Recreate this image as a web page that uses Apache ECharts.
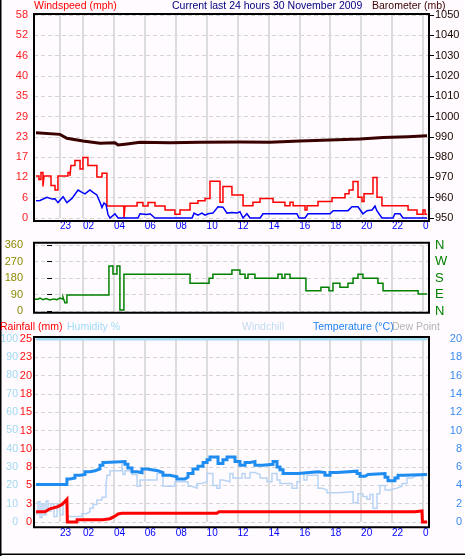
<!DOCTYPE html>
<html>
<head>
<meta charset="utf-8">
<title>Current last 24 hours 30 November 2009</title>
<script src="https://cdn.jsdelivr.net/npm/echarts@6.0.0/dist/echarts.min.js"></script>
<style>
  html, body { margin: 0; padding: 0; background: #fffbff; }
  #chart { width: 465px; height: 556px; }
</style>
</head>
<body>
<div id="chart"></div>
<script>
// hours on the time axis, 02 = 2.0 ... the last "0" = midnight (24)
var hourTicks = [0.51, 2, 4, 6, 8, 10, 12, 14, 16, 18, 20, 22, 24];
var hourLabels = ['23', '02', '04', '06', '08', '10', '12', '14', '16', '18', '20', '22', '0'];
var tMin = -1.17;
var tMax = 24.46;

var windLabels = ['0', '6', '12', '17', '23', '29', '35', '40', '46', '52', '58'];
var rainLabels = ['0', '3', '5', '8', '10', '13', '15', '18', '20', '23', '25'];
var compassLabels = ['N', 'E', 'S', 'W', 'N'];

var gustTime = [-1.04, -0.85, -0.72, -0.59, -0.52, -0.07, 0.19, 0.38, 1.03, 1.16, 1.22, 1.48, 1.81, 2.0, 2.32, 2.9, 3.23, 3.55, 4.65, 4.72,
  5.5, 5.88, 6.21, 6.66, 7.31, 7.95, 8.28, 8.93, 9.44, 9.9, 10.22, 10.87, 11.06, 11.64, 12.36, 13.0, 13.46, 14.3, 15.07, 15.4,
  15.6, 16.37, 16.5, 17.21, 18.12, 18.96, 19.22, 19.48, 19.8, 20.06, 20.19, 20.77, 21.03, 21.35, 23.04, 23.62, 24.01, 24.14, 24.27];
var gustMph = [12, 11, 13, 9, 12, 9.3, 8, 12, 13, 12, 15, 16.4, 14, 17.3, 15, 11.7, 12.8, 3.4, 0, 3.4,
  4.4, 3.4, 4.4, 3.4, 2.3, 1.1, 2.3, 4.2, 4.9, 5.6, 10.5, 4.5, 9, 6.6, 3.5, 4.5, 5.6, 4.5, 3.5, 4.5,
  3.5, 2.3, 3.5, 4.7, 5.8, 6.9, 8, 10.4, 5.9, 4.7, 6.9, 11.6, 5.9, 3.5, 2.3, 1.1, 2.3, 1.1, 1.1];

var windTime = [-1.04, -0.78, -0.33, 0, 0.19, 0.38, 0.71, 0.96, 1.29, 1.68, 1.94, 2.13, 2.45, 2.65, 2.9, 3.1, 3.23, 3.36, 3.49, 3.62,
  3.75, 4.07, 4.27, 5.56, 5.69, 6.14, 6.34, 6.66, 9.06, 9.19, 9.44, 9.7, 9.9, 10.09, 10.41, 10.74, 11.06, 11.32, 11.64, 11.97,
  12.16, 12.36, 12.61, 12.81, 13.46, 13.65, 15.85, 15.98, 16.37, 16.56, 17.99, 18.19, 19.15, 19.41, 19.8, 20.12, 20.38, 20.71, 20.9, 21.03,
  21.35, 22.06, 22.19, 22.52, 22.71, 24.27];
var windMph = [4.9, 5, 5.9, 5.4, 5.5, 4.4, 6.1, 4.4, 5.6, 8, 7.3, 6.9, 8, 7.3, 6.6, 4.5, 3, 4.3, 3.8, 1,
  0, 1.2, 0, 0, 1.2, 1, 1.2, 0, 0, 1.4, 0.8, 1.4, 0.8, 1.2, 1.4, 3.2, 3.1, 1.4, 1.6, 1.4,
  1.8, 0, 1.2, 0, 0, 1.2, 1.2, 0, 0, 1.2, 1.2, 2.1, 2.1, 3.2, 3.2, 1.2, 2.1, 2.3, 3.4, 2,
  0, 0, 1.2, 1.2, 0, 0];

var baroTime = [-1.04, 0.51, 0.96, 2.0, 3.1, 4.07, 4.27, 4.85, 5.69, 7.63, 9.57, 12.16, 14.1, 16.04, 17.99, 19.93, 21.42, 23.04, 24.27];
var baroMb = [992, 991.2, 989.3, 987.9, 986.8, 987.1, 986, 986.5, 987.3, 987.1, 987.3, 987.4, 987.3, 987.9, 988.4, 988.9, 989.6, 990, 990.5];

var dirTime = [-1.11, -0.91, -0.78, -0.59, -0.39, -0.14, 0.12, 0.32, 0.51, 0.71, 0.83, 0.96, 3.68, 3.94, 4.2, 4.39, 4.65, 8.93, 10.16, 10.41,
  11.64, 12.16, 12.49, 12.68, 13.13, 14.62, 14.88, 15.07, 15.4, 16.43, 17.4, 17.92, 18.18, 18.63, 19.15, 19.48, 19.8, 20.12, 21.09, 21.42,
  23.69, 24.27];
var dirDeg = [64, 70, 62, 68, 60, 66, 62, 70, 64, 75, 45, 87, 245, 202, 245, 5, 200, 151, 178, 200,
  224, 200, 178, 200, 178, 200, 178, 200, 178, 111, 129, 111, 151, 129, 151, 178, 200, 178, 151, 111,
  93, 93];

var humTime = [-1.04, 24.27];
var humPct = [100, 100];

var chillTime = [-1.04, -0.91, -0.78, -0.65, -0.52, -0.39, -0.26, -0.07, 0.12, 0.32, 0.51, 0.71, 0.96, 1.94, 2.19, 2.45, 2.65, 2.9, 3.23, 3.49,
  3.55, 3.75, 4.52, 4.59, 4.72, 5.17, 5.5, 5.69, 6.79, 7.18, 7.95, 8.8, 9.06, 9.38, 9.7, 10.03, 10.41, 10.67, 10.87, 11.06,
  11.51, 11.71, 12.3, 12.49, 12.81, 13.13, 13.46, 13.91, 14.23, 14.56, 14.75, 15.53, 15.85, 16.04, 16.3, 16.5, 17.21, 17.47, 17.79, 18.5,
  19.48, 19.8, 20.12, 20.38, 20.58, 20.77, 21.03, 21.22, 21.55, 21.87, 22.32, 22.65, 22.97, 23.3, 23.49, 23.94, 24.01, 24.27];
var chillC = [0.9, 2.2, 0.5, 2.0, 0.8, 2.3, 1.2, 2.0, 0.6, 1.9, 0.8, 2.0, 0.6, 0.9, 1.1, 1.5, 1.9, 2.4, 2.7, 4.0,
  5.1, 5.6, 6.4, 5.2, 5.6, 5.2, 3.9, 4.6, 5.3, 3.9, 4.4, 3.9, 3.7, 4.2, 4.4, 5.3, 4.0, 3.7, 4.6, 4.4,
  5.3, 4.8, 5.3, 4.8, 5.4, 5.2, 4.8, 4.4, 5.3, 4.6, 4.2, 3.7, 4.4, 5.3, 4.6, 5.1, 3.7, 3.5, 3.2, 3.3,
  2.1, 3.1, 2.8, 2.5, 3.0, 1.5, 3.1, 4.0, 3.5, 3.7, 3.9, 4.2, 4.8, 5.0, 5.1, 4.6, 5.2, 5.2];

var tempTime = [-1.04, 0.96, 1.16, 1.48, 1.81, 2.13, 2.45, 2.78, 3.1, 3.29, 3.42, 4.72, 4.91, 5.17, 5.5, 5.82, 6.14, 6.85, 7.18, 7.63,
  8.08, 8.6, 8.8, 9.12, 9.44, 9.77, 10.03, 10.22, 10.74, 11.06, 11.32, 11.84, 12.16, 12.49, 12.81, 13.13, 13.65, 14.3, 14.56, 14.75,
  14.95, 15.92, 17.21, 17.66, 17.99, 18.44, 19.74, 19.93, 20.25, 20.45, 21.55, 21.74, 22.19, 22.39, 22.71, 24.27];
var tempC = [4.1, 4.7, 4.8, 5.1, 5.2, 5.5, 5.6, 5.8, 6.2, 6.5, 6.6, 6.3, 5.9, 5.5, 5.4, 5.8, 5.6, 5.4, 5.1, 4.95,
  4.7, 4.9, 5.3, 5.8, 6.1, 6.5, 6.8, 7.1, 6.4, 6.8, 7.1, 6.6, 6.2, 6.5, 6.6, 6.2, 6.3, 6.6, 6.0, 5.7,
  5.3, 5.5, 5.4, 5.1, 5.4, 5.55, 5.3, 5.0, 5.2, 5.3, 4.9, 4.5, 4.8, 5.1, 5.2, 5.2];

var rainTime = [-1.04, -0.46, -0.14, 0.38, 0.64, 0.83, 0.96, 0.99, 1.6, 1.62, 3.29, 3.75, 4.07, 4.27, 4.52, 10.67, 10.8, 23.49, 23.94, 23.97, 24.27];
var rainMm = [1.4, 1.4, 1.8, 2.1, 2.4, 2.8, 3.1, 0, 0, 0.3, 0.3, 0.45, 0.8, 1.1, 1.2, 1.2, 1.4, 1.4, 1.5, 0, 0];

var FONT = '"Liberation Sans", Arial, sans-serif';

var chart = echarts.init(document.getElementById('chart'), null, { renderer: 'canvas' });

function zip (times, values) {
  var out = [];
  for (var i = 0; i < times.length; i++) {
    out.push([times[i], values[i]]);
  }
  return out;
}

function lineSeries (name, gridIdx, yIdx, data, color, width, step, z) {
  return {
    name: name,
    type: 'line',
    xAxisIndex: gridIdx,
    yAxisIndex: yIdx,
    data: data,
    step: step || false,
    showSymbol: false,
    symbol: 'none',
    clip: false,
    silent: true,
    z: z || 2,
    lineStyle: { color: color, width: width, join: 'miter' }
  };
}

function timeAxis (gridIdx, showLabels, margin) {
  return {
    type: 'value',
    gridIndex: gridIdx,
    min: tMin,
    max: tMax,
    axisLine: { show: false },
    axisTick: { show: false, customValues: hourTicks },
    splitLine: { show: true, lineStyle: { color: '#dcdcdc', width: 2, type: 'solid' } },
    axisLabel: {
      show: showLabels,
      customValues: hourTicks,
      align: 'left',
      margin: margin,
      color: '#0000ff',
      fontFamily: FONT,
      fontSize: 10,
      formatter: function (v) {
        var i = hourTicks.indexOf(v);
        return i >= 0 ? hourLabels[i] : '';
      }
    }
  };
}

var dashed = { show: true, lineStyle: { color: '#d4d4d4', width: 1, type: [4, 3] } };

function frame (y, h) {
  return {
    type: 'rect',
    z: 100,
    silent: true,
    shape: { x: 34, y: y, width: 395, height: h },
    style: { fill: null, stroke: '#000', lineWidth: 2 }
  };
}

function label (x, y, text, color) {
  return {
    type: 'text',
    z: 100,
    silent: true,
    style: { x: x, y: y, text: text, fill: color, font: '10.5px ' + FONT, verticalAlign: 'middle' }
  };
}

function plain (v) {
  return String(v);
}

var option = {
  animation: false,
  backgroundColor: '#fffbff',
  grid: [
    { left: 34, width: 396, top: 15, height: 203, outerBoundsMode: 'none' },
    { left: 34, width: 396, top: 245, height: 66, outerBoundsMode: 'none' },
    { left: 34, width: 396, top: 339, height: 183, outerBoundsMode: 'none' }
  ],
  xAxis: [timeAxis(0, true, 3), timeAxis(1, false, 3), timeAxis(2, true, 6)],
  yAxis: [{
    gridIndex: 0, type: 'value', position: 'left', min: 0, max: 58, interval: 5.8,
    axisLine: { show: false }, axisTick: { show: false },
    splitLine: dashed,
    axisLabel: { color: '#ff2020', fontFamily: FONT, fontSize: 11, margin: 6,
      formatter: function (v) { return windLabels[Math.round(v / 5.8)]; } }
  }, {
    gridIndex: 0, type: 'value', position: 'right', min: 950, max: 1050, interval: 10,
    axisLine: { show: false },
    axisTick: { show: true, inside: false, length: 4, lineStyle: { color: '#000' } },
    splitLine: { show: false },
    axisLabel: { color: '#1a0800', fontFamily: FONT, fontSize: 11, margin: 5, formatter: plain }
  }, {
    gridIndex: 1, type: 'value', position: 'left', min: 0, max: 360, interval: 90,
    axisLine: { show: false },
    axisTick: { show: true, inside: false, length: 5, lineStyle: { color: '#000' } },
    splitLine: dashed,
    axisLabel: { color: '#8b8b00', fontFamily: FONT, fontSize: 11, margin: 11 }
  }, {
    gridIndex: 1, type: 'value', position: 'right', min: 0, max: 360, interval: 90,
    axisLine: { show: false }, axisTick: { show: false },
    splitLine: { show: false },
    axisLabel: { color: '#008000', fontFamily: FONT, fontSize: 13, margin: 5,
      formatter: function (v) { return compassLabels[Math.round(v / 90)]; } }
  }, {
    gridIndex: 2, type: 'value', position: 'left', min: 0, max: 100, interval: 10,
    axisLine: { show: false }, axisTick: { show: false },
    splitLine: dashed,
    axisLabel: { color: '#a0d8f0', fontFamily: FONT, fontSize: 10.5, margin: 16 }
  }, {
    gridIndex: 2, type: 'value', position: 'left', min: 0, max: 25, interval: 2.5,
    axisLine: { show: false }, axisTick: { show: false },
    splitLine: { show: false },
    axisLabel: { color: '#ff1010', fontFamily: FONT, fontSize: 11, margin: 2,
      formatter: function (v) { return rainLabels[Math.round(v / 2.5)]; } }
  }, {
    gridIndex: 2, type: 'value', position: 'right', min: 0, max: 20, interval: 2,
    axisLine: { show: false }, axisTick: { show: false },
    splitLine: { show: false },
    axisLabel: { color: '#3a8cf0', fontFamily: FONT, fontSize: 11, margin: 32, align: 'right' }
  }],
  series: [
    lineSeries('Barometer', 0, 1, zip(baroTime, baroMb), '#3a0000', 3, false, 2),
    lineSeries('Gust', 0, 0, zip(gustTime, gustMph), '#ff0000', 1.5, 'end', 3),
    lineSeries('Windspeed', 0, 0, zip(windTime, windMph), '#0000ff', 1.5, false, 4),
    lineSeries('Direction', 1, 2, zip(dirTime, dirDeg), '#008000', 1.5, 'end', 3),
    lineSeries('Humidity', 2, 4, zip(humTime, humPct), '#a0dcf0', 3, false, 2),
    lineSeries('Windchill', 2, 6, zip(chillTime, chillC), '#b8d4f4', 1.5, 'end', 2),
    lineSeries('Temperature', 2, 6, zip(tempTime, tempC), '#1e8cf0', 3, 'end', 3),
    lineSeries('Rainfall', 2, 5, zip(rainTime, rainMm), '#ff0000', 3, false, 4)
  ],
  graphic: [
    frame(14, 207),
    frame(242.7, 70),
    frame(337, 190.3),
    { type: 'line', z: 100, silent: true, shape: { x1: 0.75, y1: 0, x2: 0.75, y2: 556 }, style: { stroke: '#000', lineWidth: 1.5 } },
    { type: 'line', z: 100, silent: true, shape: { x1: 0, y1: 554.2, x2: 465, y2: 554.2 }, style: { stroke: '#000', lineWidth: 1.5 } },
    label(34, 6, 'Windspeed (mph)', '#ff0000'),
    label(172, 6, 'Current last 24 hours 30 November 2009', '#000080'),
    label(372, 6, 'Barometer (mb)', '#3c0000'),
    label(0, 327, 'Rainfall (mm)', '#ff0000'),
    label(67, 327, 'Humidity %', '#a0dcf8'),
    label(242, 327, 'Windchill', '#c4dcf0'),
    label(313, 327, 'Temperature (°C)', '#1e82f0'),
    label(392, 327, 'Dew Point', '#b4b4b4')
  ]
};

chart.setOption(option);
</script>
</body>
</html>
